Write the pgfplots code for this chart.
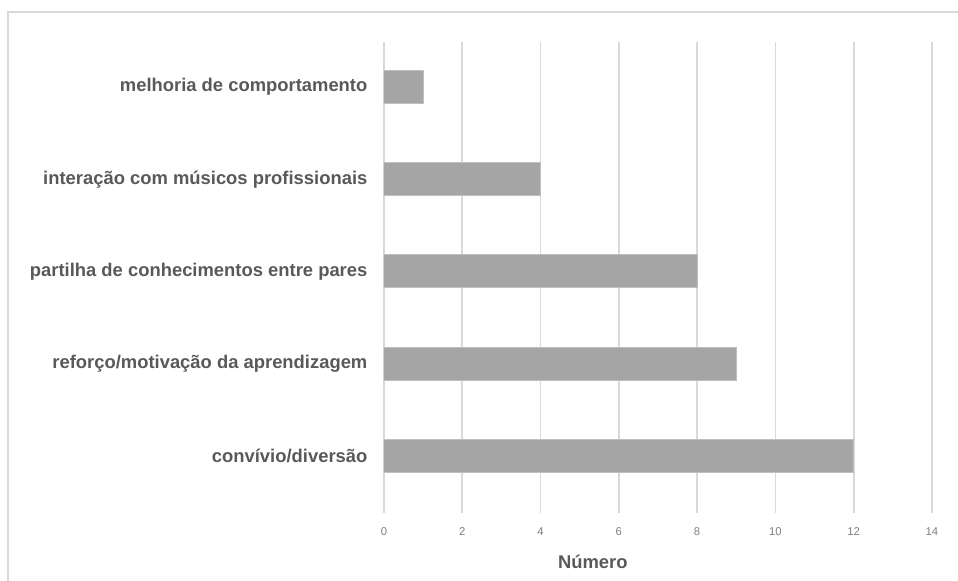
\documentclass[border=0pt]{standalone}
\usepackage{fontspec}
\setmainfont{Liberation Sans}
\usepackage{pgfplots}
\pgfplotsset{compat=1.18}
\definecolor{barc}{HTML}{A5A5A5}
\definecolor{baredge}{HTML}{BFBFBF}
\definecolor{gridc}{HTML}{D9D9D9}
\definecolor{txt}{HTML}{595959}
\definecolor{ticktxt}{HTML}{808080}
\begin{document}
\begin{tikzpicture}
\path[use as bounding box] (0pt,0pt) rectangle (718.5pt,435.75pt);
\draw[gridc, line width=1.5pt] (6pt,0pt) -- (6pt,426.75pt) -- (718.5pt,426.75pt);
\begin{axis}[
  at={(288pt,51pt)}, anchor=south west,
  scale only axis, width=411pt, height=353.25pt,
  xmin=0, xmax=14, ymin=-0.62, ymax=4.49,
  xbar, bar width=24.75pt,
  xtick={0,2,...,14},
  ytick={0,1,2,3,4},
  yticklabels={convívio/diversão, reforço/motivação da aprendizagem, partilha de conhecimentos entre pares, interação com músicos profissionais, melhoria de comportamento},
  axis line style={draw=none},
  tick style={draw=none},
  xmajorgrids, major grid style={gridc, line width=1.2pt},
  /pgf/number format/assume math mode=true,
  xticklabel style={font=\fontsize{8.5}{9}\selectfont, text=ticktxt, inner sep=0pt, anchor=north, yshift=-11pt},
  yticklabel style={font=\fontsize{13.8}{15}\selectfont\bfseries, text=txt, inner sep=0pt, anchor=east, xshift=-8pt},
  xlabel={Número},
  xlabel style={font=\fontsize{13.8}{15}\selectfont\bfseries, text=txt, at={(axis description cs:0.381,0)}, anchor=north, yshift=-28pt},
]
\addplot[fill=barc, draw=baredge, line width=0.75pt] coordinates {(12,0) (9,1) (8,2) (4,3) (1,4)};
\end{axis}
\end{tikzpicture}
\end{document}
